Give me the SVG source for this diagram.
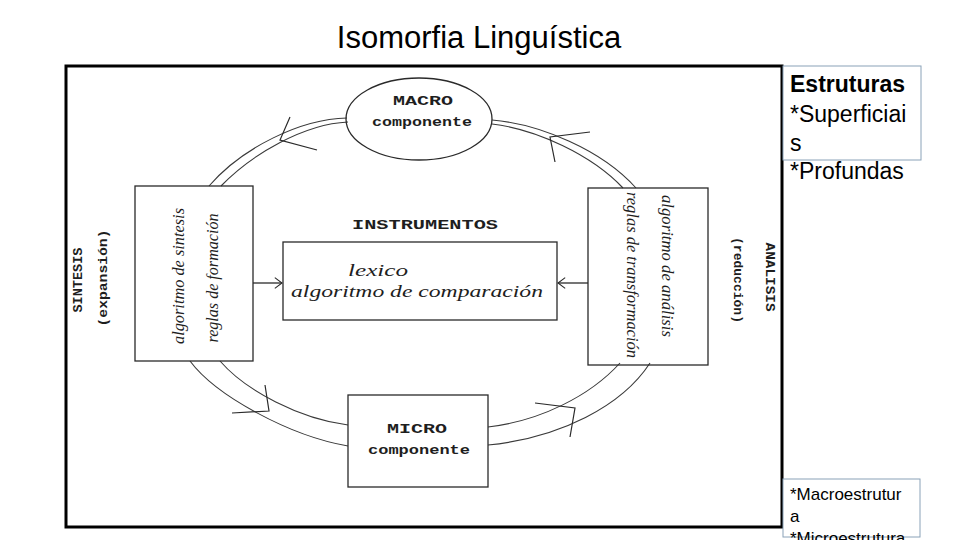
<svg xmlns="http://www.w3.org/2000/svg" width="960" height="540" viewBox="0 0 960 540">
<defs>
<style>
.ln{fill:none;stroke:#2a2a2a;stroke-width:1.3}
.arc{fill:none;stroke:#3a3a3a;stroke-width:1.1}
.ah{fill:none;stroke:#2a2a2a;stroke-width:1.2}
.mono{font-family:"Liberation Mono","DejaVu Sans Mono",monospace;font-size:12px;fill:#1e1e1e;font-weight:bold}
.hand{font-family:"Liberation Serif","DejaVu Serif",serif;font-style:italic;font-size:17px;fill:#1e1e1e}
.side{font-family:"Liberation Sans",Arial,sans-serif;fill:#000}
</style>
<marker id="v" viewBox="0 0 10 12" refX="9" refY="6" markerWidth="9" markerHeight="12" markerUnits="userSpaceOnUse" orient="auto">
<path d="M1,0 L9,6 L1,12" fill="none" stroke="#2a2a2a" stroke-width="1.2"/>
</marker>
</defs>
<rect width="960" height="540" fill="#fff"/>
<text id="title" x="479" y="48" text-anchor="middle" font-family="'Liberation Sans',Arial,sans-serif" font-size="31" fill="#000">Isomorfia Linguística</text>
<rect id="frame" x="66" y="66" width="716" height="461" fill="none" stroke="#000" stroke-width="3"/>

<g id="connectors">
<path class="arc" d="M347,118 C300,119 242,148 209,186"/>
<path class="arc" d="M348,122 C304,124 252,154 221,186"/>
<path class="arc" d="M492,120 C540,124 602,150 636,188"/>
<path class="arc" d="M492,124 C536,129 592,155 623,188"/>
<path class="arc" d="M190,361 C216,396 290,436 348,446"/>
<path class="arc" d="M220,361 C246,391 300,419 348,425"/>
<path class="arc" d="M620,363 C590,396 540,421 488,427"/>
<path class="arc" d="M650,363 C622,406 560,438 488,445"/>
<polyline class="ah" points="290,117 280,140 317,150"/>
<polyline class="ah" points="590,132 550,137 555,162"/>
<polyline class="ah" points="265,385 269,411 232,413"/>
<polyline class="ah" points="535,403 575,408 570,437"/>
<line class="ln" x1="253" y1="283" x2="282" y2="283" marker-end="url(#v)"/>
<line class="ln" x1="588" y1="283" x2="558" y2="283" marker-end="url(#v)"/>
</g>

<g id="macro">
<ellipse class="ln" cx="419" cy="119" rx="73" ry="41"/>
<text class="mono" x="423" y="105" text-anchor="middle" textLength="60" lengthAdjust="spacingAndGlyphs">MACRO</text>
<text class="mono" x="422" y="126" text-anchor="middle" textLength="100" lengthAdjust="spacingAndGlyphs">componente</text>
</g>

<g id="instrumentos">
<text class="mono" x="425" y="229" text-anchor="middle" textLength="146" lengthAdjust="spacingAndGlyphs">INSTRUMENTOS</text>
<rect class="ln" x="283" y="242" width="274" height="78"/>
<text class="hand" x="378" y="276" text-anchor="middle" textLength="60" lengthAdjust="spacingAndGlyphs">lexico</text>
<text class="hand" x="417" y="297" text-anchor="middle" textLength="252" lengthAdjust="spacingAndGlyphs">algoritmo de comparación</text>
</g>

<g id="sintesis">
<rect class="ln" x="135" y="186" width="118" height="175"/>
<text class="hand" transform="translate(184,276) rotate(-90)" text-anchor="middle" textLength="136" lengthAdjust="spacingAndGlyphs">algoritmo de sintesis</text>
<text class="hand" transform="translate(218,278) rotate(-90)" text-anchor="middle" textLength="129" lengthAdjust="spacingAndGlyphs">reglas de formación</text>
<text class="mono" transform="translate(82,280) rotate(-90)" text-anchor="middle" textLength="65" lengthAdjust="spacingAndGlyphs">SINTESIS</text>
<text class="mono" transform="translate(107,278) rotate(-90)" text-anchor="middle" textLength="97" lengthAdjust="spacingAndGlyphs">(expansión)</text>
</g>

<g id="analisis">
<rect class="ln" x="588" y="188" width="120" height="177"/>
<text class="hand" transform="translate(662,266) rotate(90)" text-anchor="middle" textLength="142" lengthAdjust="spacingAndGlyphs">algoritmo de análisis</text>
<text class="hand" transform="translate(627,275) rotate(90)" text-anchor="middle" textLength="166" lengthAdjust="spacingAndGlyphs">reglas de transformación</text>
<text class="mono" transform="translate(766,277) rotate(90)" text-anchor="middle" textLength="69" lengthAdjust="spacingAndGlyphs">ANALISIS</text>
<text class="mono" transform="translate(734,280) rotate(90)" text-anchor="middle" textLength="86" lengthAdjust="spacingAndGlyphs">(reducción)</text>
</g>

<g id="micro">
<rect class="ln" x="348" y="395" width="140" height="92"/>
<text class="mono" x="417" y="433" text-anchor="middle" textLength="60" lengthAdjust="spacingAndGlyphs">MICRO</text>
<text class="mono" x="419" y="454" text-anchor="middle" textLength="102" lengthAdjust="spacingAndGlyphs">componente</text>
</g>

<g id="estruturas">
<rect x="783" y="66" width="138" height="94" fill="#fff" stroke="#8aa2b8" stroke-width="1"/>
<text class="side" x="790" y="92" font-size="23" font-weight="bold">Estruturas</text>
<text class="side" x="790" y="122" font-size="23">*Superficiai</text>
<text class="side" x="790" y="151" font-size="23">s</text>
<text class="side" x="790" y="179" font-size="23">*Profundas</text>
</g>

<g id="macroestrutura">
<rect x="783" y="479" width="137" height="58" fill="#fff" stroke="#8aa2b8" stroke-width="1"/>
<text class="side" x="790" y="500" font-size="17">*Macroestrutur</text>
<text class="side" x="790" y="522" font-size="17">a</text>
<text class="side" x="790" y="544" font-size="17">*Microestrutura</text>
</g>
</svg>
